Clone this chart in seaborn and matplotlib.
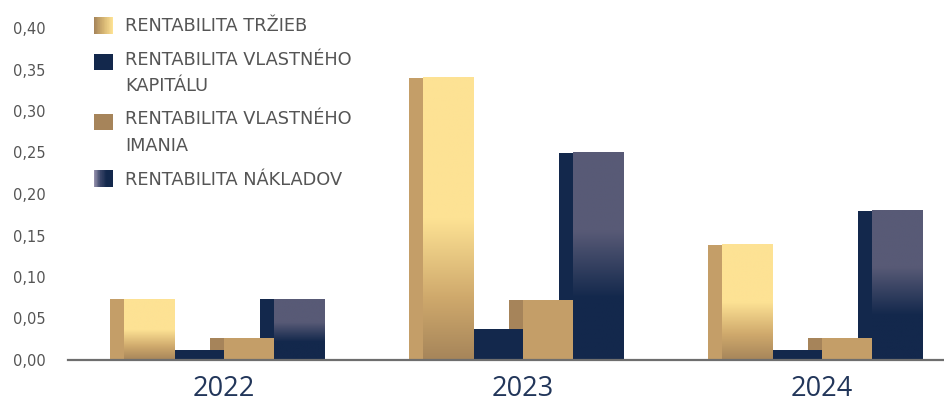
import numpy as np
import pandas as pd
import matplotlib
matplotlib.use('Agg')
import matplotlib.pyplot as plt
import seaborn as sns
from matplotlib.colors import LinearSegmentedColormap
from matplotlib.legend_handler import HandlerBase
from matplotlib.patches import Rectangle, Patch
from matplotlib.ticker import FuncFormatter

# data
years = ["2022", "2023", "2024"]
series = [
    "RENTABILITA TRŽIEB",
    "RENTABILITA VLASTNÉHO\nKAPITÁLU",
    "RENTABILITA VLASTNÉHO\nIMANIA",
    "RENTABILITA NÁKLADOV",
]
trzby = [0.073, 0.340, 0.139]
kapital = [0.012, 0.037, 0.012]
imanie = [0.026, 0.072, 0.026]
naklady = [0.073, 0.250, 0.180]

front_colors = ["#FDE294", "#13284C", "#C49E68", "#585A76"]
side_colors = ["#C49E68", "#13284C", "#A6845A", "#13284C"]

grad_trzby = [(0.0, "#A6855A"), (0.22, "#CFA96C"), (0.5, "#FDE294"), (1.0, "#FDE294")]
grad_naklady = [(0.0, "#13284C"), (0.3, "#13284C"), (0.62, "#585A76"), (1.0, "#585A76")]

legend_colors = [
    ["#A6855A", "#D6B573", "#FDE294"],
    ["#13284C", "#13284C"],
    ["#A6845A", "#A6845A"],
    ["#938FAA", "#3A4568", "#13284C", "#13284C"],
]

df = pd.DataFrame({
    "rok": years * 4,
    "ukazovatel": [s for s in series for _ in years],
    "hodnota": trzby + kapital + imanie + naklady,
})


class GradientHandler(HandlerBase):
    def __init__(self, colors, lift=0.0):
        super().__init__()
        self.cmap = LinearSegmentedColormap.from_list("leg", colors)
        self.lift = lift

    def create_artists(self, legend, orig_handle, xdescent, ydescent,
                       width, height, fontsize, trans):
        n = 30
        y0 = -ydescent + self.lift * fontsize
        arts = []
        for i in range(n):
            r = Rectangle((-xdescent + width * i / n, y0), width / n * 1.05, height,
                          facecolor=self.cmap(i / (n - 1)), edgecolor="none",
                          transform=trans)
            arts.append(r)
        return arts


def paint_gradient(ax, container, stops):
    cmap = LinearSegmentedColormap.from_list("bar", stops)
    grad = np.linspace(0, 1, 256).reshape(-1, 1)
    for bar in container:
        x0, w, h = bar.get_x(), bar.get_width(), bar.get_height()
        ax.imshow(grad, cmap=cmap, extent=[x0, x0 + w, 0, h], origin="lower",
                  aspect="auto", interpolation="bilinear", zorder=2.5)


sns.set_style("white")
plt.rcParams["font.family"] = ["DejaVu Sans"]

fig = plt.figure(figsize=(9.44, 4.03), dpi=100)
ax = fig.add_axes([68 / 944, 1 - 360 / 403, (944 - 68) / 944, (360 - 28) / 403])

group_width = 0.669
depth = 0.047

# side faces (drawn first, shifted left)
sns.barplot(data=df, x="rok", y="hodnota", hue="ukazovatel", hue_order=series,
            palette=side_colors, width=group_width, saturation=1, linewidth=0,
            legend=False, ax=ax, zorder=1, errorbar=None)
for cont in ax.containers:
    for bar in cont:
        bar.set_x(bar.get_x() - depth)
n_side = len(ax.containers)

# front faces
sns.barplot(data=df, x="rok", y="hodnota", hue="ukazovatel", hue_order=series,
            palette=front_colors, width=group_width, saturation=1, linewidth=0,
            legend=False, ax=ax, zorder=2, errorbar=None)
fronts = ax.containers[n_side:]
paint_gradient(ax, fronts[0], grad_trzby)
paint_gradient(ax, fronts[3], grad_naklady)

ax.set_xlim(-0.522, 2.408)
ax.set_ylim(0, 0.40)
ax.set_yticks(np.arange(0, 0.401, 0.05))
ax.yaxis.set_major_formatter(FuncFormatter(lambda v, p: f"{v:.2f}".replace(".", ",")))
ax.tick_params(axis="y", length=0, pad=16, labelsize=10.5, labelcolor="#555555")
ax.tick_params(axis="x", length=0, pad=11, labelsize=19.5, labelcolor="#22365A")
for lab in ax.get_xticklabels():
    lab.set_fontfamily(["Open Sans", "DejaVu Sans"])
ax.set_xlabel("")
ax.set_ylabel("")
for side in ["top", "right", "left"]:
    ax.spines[side].set_visible(False)
ax.spines["bottom"].set_color("#6E6E6E")
ax.spines["bottom"].set_linewidth(1.6)
ax.spines["bottom"].set_zorder(4)

handles = [Patch(label=s) for s in series]
hmap = {}
for h, s, cols in zip(handles, series, legend_colors):
    lift = 0.66 if "\n" in s else 0.0
    hmap[h] = GradientHandler(cols, lift)
leg = fig.legend(handles=handles, labels=series, handler_map=hmap,
                 loc="upper left", bbox_to_anchor=(94 / 944, 1 - 17 / 403),
                 frameon=False, fontsize=12.8, borderpad=0, borderaxespad=0,
                 handlelength=1.07, handleheight=1.07, handletextpad=0.67,
                 labelspacing=0.85, labelcolor="#555555")
for t in leg.get_texts():
    t.set_linespacing(1.62)

fig.savefig("out.png", dpi=100)
